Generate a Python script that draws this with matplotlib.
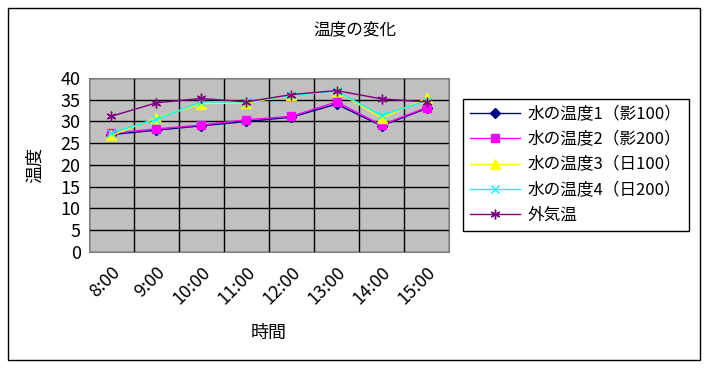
import numpy as np
import matplotlib.pyplot as plt
from matplotlib.patches import Rectangle

plt.rcParams['font.family'] = ['Noto Sans CJK JP', 'DejaVu Sans']

times = ['8:00', '9:00', '10:00', '11:00', '12:00', '13:00', '14:00', '15:00']
water1 = [27, 28, 29, 30, 31, 34, 29, 33]
water2 = [27.3, 28.3, 29.2, 30.4, 31.2, 34.5, 29.2, 33.2]
water3 = [26.8, 30.8, 34.1, 34.3, 36, 37, 30.8, 35.3]
water4 = [27.4, 30.5, 34.5, 34.5, 36, 37, 31.4, 34.8]
outside = [31.2, 34.3, 35.3, 34.5, 36.2, 37.1, 35.2, 34.5]
labels = ['水の温度1（影100）', '水の温度2（影200）', '水の温度3（日100）',
          '水の温度4（日200）', '外気温']

fig = plt.figure(figsize=(7.09, 3.71), dpi=100)
fig.patches.append(Rectangle((0.0113, 0.0296), 0.976, 0.949, transform=fig.transFigure,
                             fill=False, edgecolor='black', linewidth=1))
ax = fig.add_axes([0.1255, 0.3208, 0.5078, 0.469])
ax.set_facecolor('#c0c0c0')

x = np.arange(len(times))
ax.plot(x, water1, color='#000080', marker='D', markersize=5, linewidth=1, label=labels[0])
ax.plot(x, water2, color='#ff00ff', marker='s', markersize=6, linewidth=1, label=labels[1])
ax.plot(x, water3, color='#ffff00', marker='^', markersize=7, linewidth=1, label=labels[2])
ax.plot(x, water4, color='#00ffff', marker='x', markersize=6, linewidth=1, label=labels[3])
ax.plot(x, outside, color='#800080', marker=(6, 2, 0), markersize=7, linewidth=1, label=labels[4])

ax.set_xlim(-0.5, len(times) - 0.5)
ax.set_ylim(0, 40)
ax.set_yticks(np.arange(0, 41, 5))
ax.set_xticks(x)
ax.set_xticklabels(times, rotation=45, ha='right', rotation_mode='anchor')
ax.set_xticks(np.arange(-0.5, len(times), 1), minor=True)
ax.tick_params(axis='x', which='both', length=0, labelsize=13, pad=8)
ax.tick_params(axis='y', length=0, labelsize=13, pad=6)
ax.grid(axis='y', color='black', linewidth=1)
ax.grid(axis='x', which='minor', color='black', linewidth=1)
ax.set_axisbelow(True)
for s in ax.spines.values():
    s.set_color('#808080')

ax.set_xlabel('時間', fontsize=13, labelpad=12)
ax.set_ylabel('温度', fontsize=13, labelpad=12)
fig.text(0.5, 0.92, '温度の変化', ha='center', va='center', fontsize=12)

fig.legend(loc='upper left', bbox_to_anchor=(0.653, 0.733), bbox_transform=fig.transFigure,
           fancybox=False, edgecolor='black', framealpha=1, borderaxespad=0,
           fontsize=12, handlelength=3, labelspacing=0.5, borderpad=0.4,
           handletextpad=0.5)

fig.savefig('out.png', dpi=100)
